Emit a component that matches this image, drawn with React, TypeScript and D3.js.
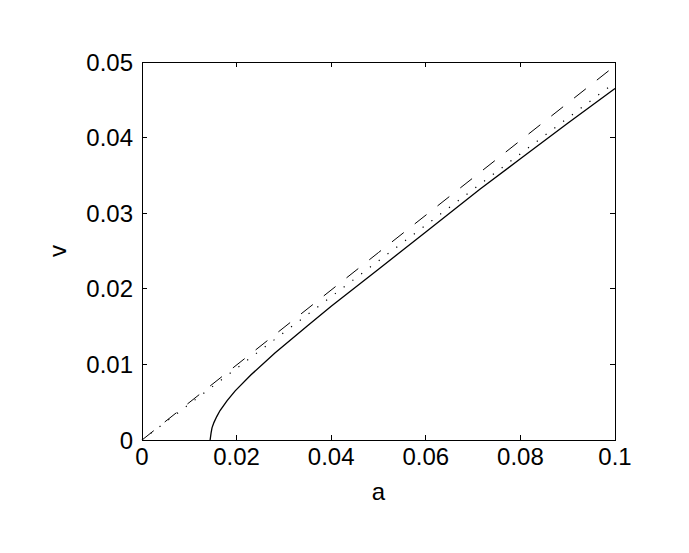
import React from "react";
import * as d3 from "d3";

const xTicks = [0, 0.02, 0.04, 0.06, 0.08, 0.1];
const yTicks = [0, 0.01, 0.02, 0.03, 0.04, 0.05];
const xTickLabels = ["0", "0.02", "0.04", "0.06", "0.08", "0.1"];
const yTickLabels = ["0", "0.01", "0.02", "0.03", "0.04", "0.05"];

// dashed line
const dashedA = [0, 0.05, 0.1];
const dashedV = [0, 0.0248, 0.0495];
// dotted line
const dottedA = [0, 0.05, 0.1];
const dottedV = [0, 0.0237, 0.0473];
// solid line
const solidA = [0.0144, 0.0146, 0.0148, 0.0152, 0.0158, 0.0165, 0.018, 0.0197, 0.023, 0.0281, 0.035, 0.04, 0.05, 0.06, 0.0715, 0.08, 0.09, 0.1];
const solidV = [0, 0.0009, 0.0016, 0.0023, 0.0031, 0.0039, 0.0052, 0.0065, 0.0086, 0.0115, 0.0151, 0.0177, 0.0226, 0.0275, 0.0332, 0.0372, 0.0419, 0.0465];

const W = 689;
const H = 553;
const L = 142, R = 615, T = 62, B = 440;

export default function App() {
  const x = d3.scaleLinear().domain([0, 0.1]).range([L, R]);
  const y = d3.scaleLinear().domain([0, 0.05]).range([B, T]);
  const line = d3.line<[number, number]>().x((d) => x(d[0])).y((d) => y(d[1]));
  const mk = (a: number[], v: number[]) => line(a.map((ai, i) => [ai, v[i]] as [number, number])) || "";
  const font = "'Liberation Sans', Arial, Helvetica, sans-serif";
  const tl = 5;
  return (
    <svg width={W} height={H} style={{ position: "absolute", left: 0, top: 0, background: "#fff" }}>
      <rect x={0} y={0} width={W} height={H} fill="#fff" />
      <g fill="none" stroke="#000" strokeWidth={1}>
        <path d={mk(dashedA, dashedV)} strokeDasharray="15,14" />
        <path d={mk(dottedA, dottedV)} strokeDasharray="1.2,9.8" strokeWidth={1.2} />
        <path d={mk(solidA, solidV)} strokeWidth={1.3} />
      </g>
      <g stroke="#000" strokeWidth={1} shapeRendering="crispEdges">
        <rect x={L} y={T} width={R - L} height={B - T} fill="none" />
        {xTicks.map((t, i) => (
          <g key={"x" + i}>
            <line x1={x(t)} x2={x(t)} y1={B} y2={B - tl} />
            <line x1={x(t)} x2={x(t)} y1={T} y2={T + tl} />
          </g>
        ))}
        {yTicks.map((t, i) => (
          <g key={"y" + i}>
            <line x1={L} x2={L + tl} y1={y(t)} y2={y(t)} />
            <line x1={R} x2={R - tl} y1={y(t)} y2={y(t)} />
          </g>
        ))}
      </g>
      <g fontFamily={font} fontSize={24} fill="#000">
        {xTicks.map((t, i) => (
          <text key={"xl" + i} x={x(t)} y={B + 25} textAnchor="middle">
            {xTickLabels[i]}
          </text>
        ))}
        {yTicks.map((t, i) => (
          <text key={"yl" + i} x={L - 9} y={y(t) + 8.5} textAnchor="end">
            {yTickLabels[i]}
          </text>
        ))}
        <text x={(L + R) / 2} y={500} textAnchor="middle">a</text>
        <text transform={`translate(66,251) rotate(-90)`} textAnchor="middle">v</text>
      </g>
    </svg>
  );
}
